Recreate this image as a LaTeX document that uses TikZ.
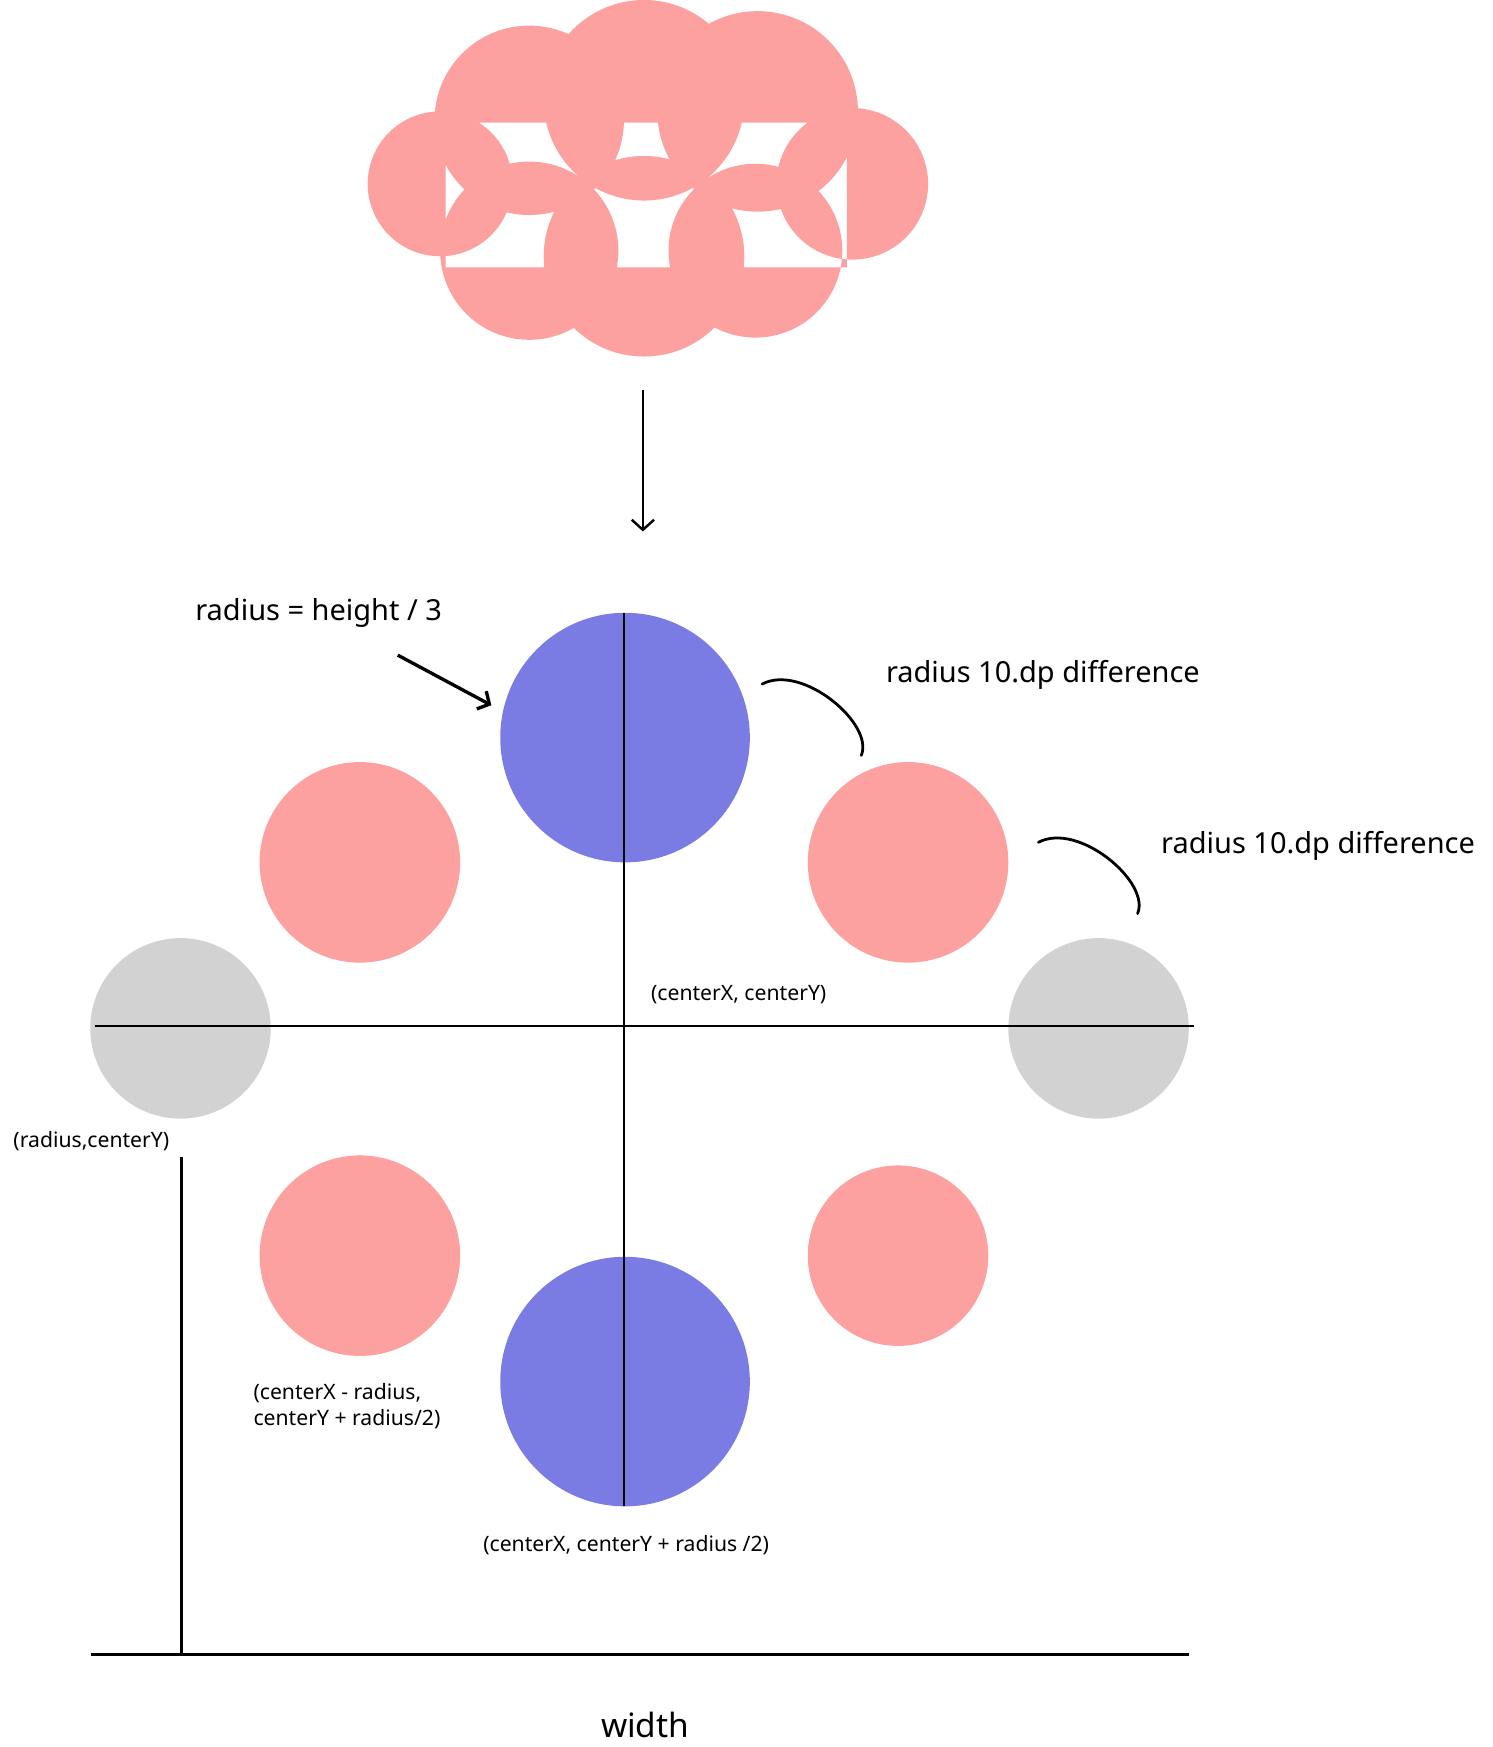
\documentclass[tikz,border=0pt]{standalone}
\usepackage{fontspec}
\setmainfont{Noto Sans}
\usetikzlibrary{arrows.meta}
\definecolor{pinkc}{HTML}{FCA0A0}
\definecolor{bluec}{HTML}{7A7CE3}
\definecolor{grayc}{HTML}{D2D2D2}
\begin{document}
\begin{tikzpicture}[x=1pt,y=-1pt,
  big/.style={font=\fontsize{26}{30}\selectfont},
  small/.style={font=\fontsize{19}{24}\selectfont},
  ln/.style={line width=2.2pt},
  curl/.style={line width=2.5pt,line cap=round}]
\useasboundingbox (0,0) rectangle (1340,1568);
% cloud
\fill[pinkc] (395,165) circle (65) (475,108) circle (85) (578,90) circle (90)
  (680,100) circle (90) (765,165) circle (68) (475,225) circle (80)
  (578,230) circle (90) (678,225) circle (78) (400,110) rectangle (760,240);
\coordinate (a1) at (577,350); \coordinate (a2) at (577,477);
\draw[ln,-{Straight Barb[length=9pt,width=20pt]}] (a1) -- (a2);
% circles
\fill[bluec] (561,662) circle (112) (561,1240) circle (112);
\fill[pinkc] (323,774) circle (90) (815,774) circle (90) (323,1127) circle (90) (806,1127) circle (81);
\fill[grayc] (162,923) circle (81) (986,923) circle (81);
% axes
\coordinate (v1) at (560,550); \coordinate (v2) at (560,1352);
\coordinate (h1) at (85,921); \coordinate (h2) at (1072,921);
\coordinate (w1) at (163,1038); \coordinate (w2) at (163,1485);
\coordinate (b1) at (82,1485); \coordinate (b2) at (1067,1485);
\draw[ln] (v1)--(v2) (h1)--(h2) (w1)--(w2) (b1)--(b2);
% texts
\node[big] (t1) at (286,550) {radius = height / 3};
\coordinate (r1) at (357,588); \coordinate (r2) at (441,633);
\draw[line width=3pt,-{Straight Barb[length=8pt,width=18pt]}] (r1)--(r2);
\node[big] (t2) at (936,606) {radius 10.dp difference};
\node[big] (t3) at (1183,759) {radius 10.dp difference};
\coordinate (c1) at (684,614); \coordinate (c2) at (773,678);
\draw[curl] (c1) .. controls (720,595) and (785,650) .. (c2);
\coordinate (d1) at (932,756); \coordinate (d2) at (1021,820);
\draw[curl] (d1) .. controls (968,737) and (1033,792) .. (d2);
\node[small] (l1) at (663,893) {(centerX, centerY)};
\node[small] (l2) at (82,1024) {(radius,centerY)};
\node[small,align=left,anchor=west] (l3) at (224,1262) {(centerX - radius,\\centerY + radius/2)};
\node[small] (l4) at (562,1387) {(centerX, centerY + radius /2)};
\node[font=\fontsize{30}{34}\selectfont] (l5) at (579,1548) {width};
\end{tikzpicture}
\end{document}
